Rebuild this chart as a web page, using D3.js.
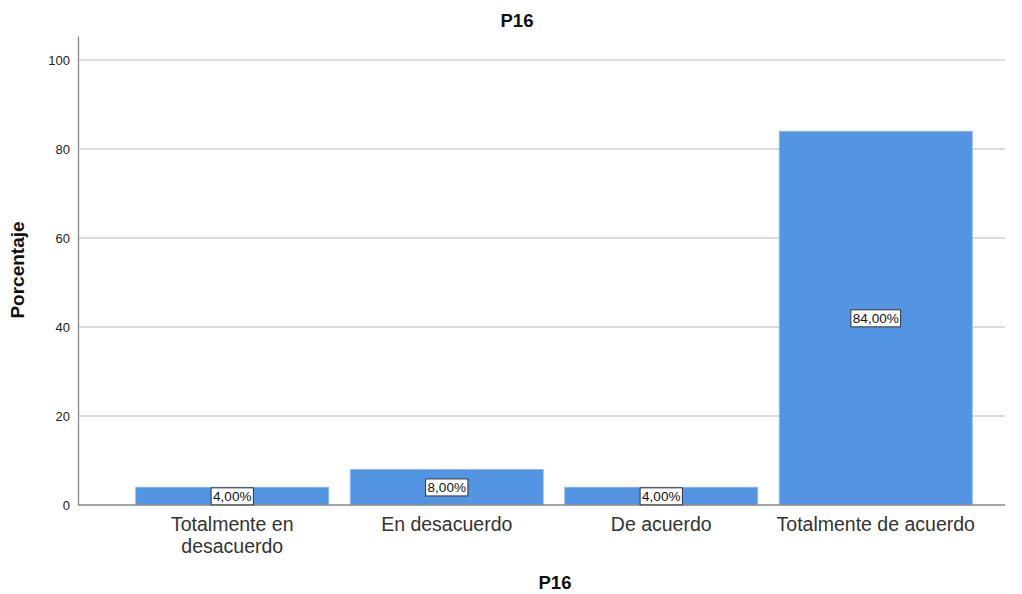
<!DOCTYPE html>
<html>
<head>
<meta charset="utf-8">
<script src="https://cdn.jsdelivr.net/npm/d3@7"></script>
<style>
  body { margin: 0; background: #fff; }
  text { font-family: Arial, "Liberation Sans", sans-serif; }
</style>
</head>
<body>
<div id="container"></div>
<script>
// chart data
const categories = ["Totalmente en desacuerdo", "En desacuerdo", "De acuerdo", "Totalmente de acuerdo"];
const percentages = [4, 8, 4, 84];
const yTicks = [0, 20, 40, 60, 80, 100];

const width = 1022;
const height = 594;
const margin = { top: 36, bottom: 89, left: 78, right: 17 };

const svg = d3.select('#container')
    .append('svg')
    .attr('width', width)
    .attr('height', height);

const y = d3.scaleLinear()
    .domain([0, 105.4])
    .range([height - margin.bottom, margin.top]);

const x = d3.scaleBand()
    .domain(categories)
    .range([125, 983])
    .paddingInner(0.1)
    .paddingOuter(0.05);

// grid lines
svg.append("g")
    .selectAll("line")
    .data(yTicks.filter(d => d > 0))
    .enter().append("line")
    .attr("x1", margin.left)
    .attr("x2", width - margin.right)
    .attr("y1", d => y(d))
    .attr("y2", d => y(d))
    .attr("stroke", "#d0d0d0")
    .attr("stroke-width", 1.3);

// bars
svg.selectAll(".bar")
    .data(categories)
    .enter().append("rect")
    .attr("class", "bar")
    .attr("x", d => x(d))
    .attr("y", (d, i) => y(percentages[i]))
    .attr("width", x.bandwidth())
    .attr("height", (d, i) => y(0) - y(percentages[i]))
    .attr("fill", "#5495e3")
    .attr("stroke", "#8fbaf0")
    .attr("stroke-width", 0.8);

// y axis
const yAxis = svg.append("g")
    .attr("transform", `translate(${margin.left},0)`)
    .call(d3.axisLeft(y).tickValues(yTicks).tickSize(0).tickPadding(8));
yAxis.select(".domain").attr("stroke", "#888").attr("stroke-width", 1.3);
yAxis.selectAll("text").attr("font-size", "13px").attr("fill", "#222");

// x axis
const xAxis = svg.append("g")
    .attr("transform", `translate(0,${height - margin.bottom})`)
    .call(d3.axisBottom(x).tickSize(0).tickFormat(""));
xAxis.select(".domain")
    .attr("d", `M${margin.left},0H${width - margin.right}`)
    .attr("stroke", "#888").attr("stroke-width", 1.3);

// category labels (wrapped)
const wrapLabel = s => s === "Totalmente en desacuerdo" ? ["Totalmente en", "desacuerdo"] : [s];
svg.append("g").selectAll("text")
    .data(categories)
    .enter().append("text")
    .attr("x", d => x(d) + x.bandwidth() / 2)
    .attr("y", height - margin.bottom + 26)
    .attr("text-anchor", "middle")
    .attr("font-size", "19.5px")
    .attr("fill", "#333")
    .each(function (d) {
        const t = d3.select(this);
        wrapLabel(d).forEach((line, i) => {
            t.append("tspan")
                .attr("x", x(d) + x.bandwidth() / 2)
                .attr("dy", i === 0 ? 0 : 22)
                .text(line);
        });
    });

// value labels
const labels = svg.append("g").selectAll("g")
    .data(categories)
    .enter().append("g")
    .attr("transform", (d, i) => `translate(${x(d) + x.bandwidth() / 2},${(y(0) + y(percentages[i])) / 2})`);

labels.append("text")
    .attr("text-anchor", "middle")
    .attr("dy", "0.35em")
    .attr("font-size", "13.5px")
    .attr("fill", "#111")
    .text((d, i) => percentages[i].toFixed(2).replace(".", ",") + "%");

labels.each(function () {
    const g = d3.select(this);
    const bb = g.select("text").node().getBBox();
    g.insert("rect", "text")
        .attr("x", bb.x - 2)
        .attr("y", bb.y - 1)
        .attr("width", bb.width + 4)
        .attr("height", bb.height + 2)
        .attr("fill", "#fff")
        .attr("stroke", "#333")
        .attr("stroke-width", 1);
});

// titles
svg.append("text")
    .attr("x", 517)
    .attr("y", 26.5)
    .attr("text-anchor", "middle")
    .attr("font-size", "18.5px")
    .attr("font-weight", "bold")
    .attr("fill", "#111")
    .text("P16");

svg.append("text")
    .attr("x", 555)
    .attr("y", 589)
    .attr("text-anchor", "middle")
    .attr("font-size", "18.5px")
    .attr("font-weight", "bold")
    .attr("fill", "#111")
    .text("P16");

svg.append("text")
    .attr("transform", `translate(24,270) rotate(-90)`)
    .attr("text-anchor", "middle")
    .attr("font-size", "19px")
    .attr("font-weight", "bold")
    .attr("fill", "#111")
    .text("Porcentaje");
</script>
</body>
</html>
